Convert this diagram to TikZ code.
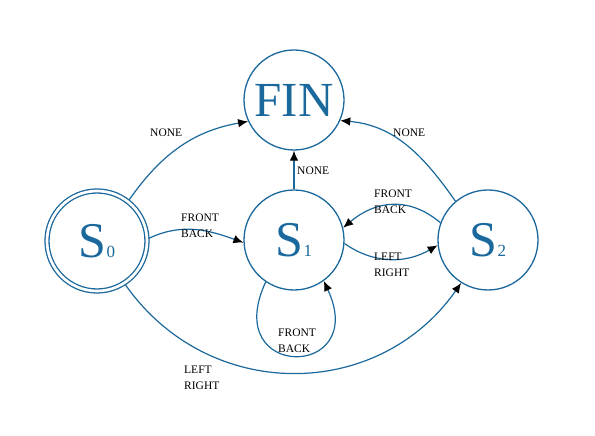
\documentclass[tikz,border=0pt]{standalone}
\usepackage{fontspec}
\setmainfont{Liberation Serif}
\usetikzlibrary{arrows.meta}
\definecolor{stblue}{RGB}{26,104,156}
\tikzset{
  state/.style={circle,draw=stblue,line width=1.3pt,minimum size=100pt,inner sep=0pt,text=stblue},
  acc/.style={state,double=white,double distance=2.7pt,outer sep=2pt},
  edge/.style={draw=stblue,line width=1.2pt,-{Latex[length=10pt,width=8.5pt,color=black]}},
  lbl/.style={anchor=west,align=left,inner sep=0pt,font=\fontsize{11.5}{16.5}\selectfont,text=black},
}
\newcommand{\stname}[1]{\fontsize{50}{50}\selectfont S\fontsize{17}{17}\selectfont #1}
\begin{document}
\begin{tikzpicture}[x=1pt,y=1pt]
\useasboundingbox (0,0) rectangle (595,436);
\node[state,font=\fontsize{49}{49}\selectfont] (FIN) at (294,336) {FIN};
\node[acc] (S0) at (97,195) {\stname{0}};
\node[state] (S1) at (294,196) {\stname{1}};
\node[state] (S2) at (488,196) {\stname{2}};

\draw[edge] (S0.52) to[out=55,in=190] (FIN.205);
\draw[edge] (S2.130) to[out=125,in=355] (FIN.336);
\draw[edge] (S1.north) -- (FIN.south);
\draw[edge] (S0.3) to[out=25,in=160] (S1.183);
\draw[edge] (S2.160) to[out=140,in=40,looseness=1.1] (S1.14);
\draw[edge] (S1.356) to[out=-35,in=210] (S2.186);
\draw[edge] (S1.236) to[out=245,in=295,looseness=4.8] (S1.306);
\draw[edge] (S0.303) to[out=-55,in=235,looseness=1.1] (S2.238);

\node[lbl] (l1) at (150,303) {NONE};
\node[lbl] (l2) at (393,303) {NONE};
\node[lbl] (l3) at (297,265) {NONE};
\node[lbl] (l4) at (181,210) {FRONT\\BACK};
\node[lbl] (l5) at (374,234) {FRONT\\BACK};
\node[lbl] (l6) at (374,171) {LEFT\\RIGHT};
\node[lbl] (l7) at (278,95) {FRONT\\BACK};
\node[lbl] (l8) at (184,58) {LEFT\\RIGHT};
\end{tikzpicture}
\end{document}
